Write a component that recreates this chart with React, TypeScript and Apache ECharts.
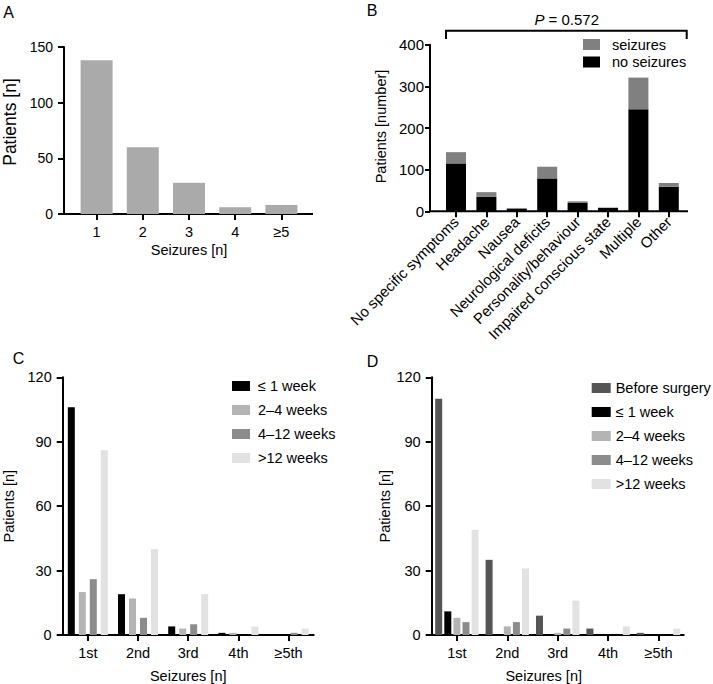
import React, { useEffect, useRef } from "react";
import * as echarts from "echarts";

// ---------- Data ----------
const catsA = ["1", "2", "3", "4", "≥5"];
const valsA = [138, 60, 28, 6, 8];

const catsB = [
  "No specific symptoms",
  "Headache",
  "Nausea",
  "Neurological deficits",
  "Personality/behaviour",
  "Impaired conscious state",
  "Multiple",
  "Other",
];
const noSeizuresB = [115, 35, 6, 79, 20, 8, 245, 59];
const seizuresB = [27, 11, 2, 28, 4, 1, 76, 9];

const catsCD = ["1st", "2nd", "3rd", "4th", "≥5th"];
const w1C = [106, 19, 4, 1, 0];
const w2to4C = [20, 17, 3, 1, 0];
const w4to12C = [26, 8, 5, 0, 1];
const w12C = [86, 40, 19, 4, 3];

const beforeD = [110, 35, 9, 3, 1];
const w1D = [11, 0, 0, 0, 0];
const w2to4D = [8, 4, 1, 0, 0];
const w4to12D = [6, 6, 3, 0, 0];
const w12D = [49, 31, 16, 4, 3];

const ticksA = { min: 0, max: 150, interval: 50 };
const ticksB = { min: 0, max: 400, interval: 100 };
const ticksCD = { min: 0, max: 120, interval: 30 };

// ---------- Styles ----------
const FONT = "Liberation Sans, Arial, Helvetica, sans-serif";
const C_BLACK = "#000000";
const C_LIGHT = "#b4b4b4";
const C_MID = "#8c8c8c";
const C_VLIGHT = "#e2e2e2";
const C_BEFORE = "#555555";
const C_A = "#aaaaaa";
const C_SEIZ = "#808080";

const axisLine = { show: true, lineStyle: { color: "#000", width: 2 } };
const tick = (len: number) => ({ show: true, length: len, lineStyle: { color: "#000", width: 2 } });

function yAxis(grid: number, t: any, name: string, gap: number, fs: number, opts: any = {}) {
  return {
    gridIndex: grid,
    type: "value",
    min: t.min,
    max: t.max,
    interval: t.interval,
    axisLine,
    axisTick: tick(opts.tickLen ?? 6),
    splitLine: { show: false },
    axisLabel: { fontSize: fs, color: "#000", fontFamily: FONT, margin: opts.labelMargin ?? 11 },
    name,
    nameLocation: "middle",
    nameGap: gap,
    nameTextStyle: { fontSize: opts.nameSize ?? 14.5, color: "#000", fontFamily: FONT, padding: opts.namePad ?? 0 },
    offset: opts.offset ?? 0,
  };
}

function xAxis(grid: number, data: string[], opts: any = {}) {
  return {
    gridIndex: grid,
    type: "category",
    data,
    axisLine: opts.hideLine ? { show: false } : axisLine,
    axisTick: { ...tick(6), alignWithLabel: true },
    axisLabel: {
      fontSize: opts.fs ?? 14.5,
      color: "#000",
      fontFamily: FONT,
      margin: opts.margin ?? 10,
      interval: 0,
      rotate: opts.rotate ?? 0,
    },
    name: opts.name ?? "",
    nameLocation: "middle",
    nameGap: opts.nameGap ?? 30,
    nameTextStyle: { fontSize: 14.5, color: "#000", fontFamily: FONT, padding: opts.namePad ?? 0 },
  };
}

function bar(name: string, x: number, data: number[], color: string, extra: any = {}) {
  return {
    type: "bar",
    name,
    xAxisIndex: x,
    yAxisIndex: x,
    data,
    itemStyle: { color },
    ...extra,
  };
}

export default function App() {
  const ref = useRef<HTMLDivElement>(null);

  useEffect(() => {
    document.body.style.margin = "0";
    if (!ref.current) return;
    const chart = echarts.init(ref.current, undefined, { renderer: "svg" });

    const legendText = { fontSize: 14.5, color: "#000", fontFamily: FONT };

    const option: any = {
      animation: false,
      textStyle: { fontFamily: FONT, color: "#000" },
      grid: [
        { left: 69.5, top: 47, width: 235, height: 167 },
        { left: 440.8, top: 44.7, width: 243.2, height: 166.6 },
        { left: 61.7, top: 377.3, width: 252, height: 257.7 },
        { left: 431.7, top: 377.3, width: 252, height: 257.7 },
      ],
      xAxis: [
        xAxis(0, catsA, { hideLine: true, name: "Seizures [n]", nameGap: 28 }),
        xAxis(1, catsB, { hideLine: true, rotate: 45, fs: 15, margin: 8 }),
        xAxis(2, catsCD, { name: "Seizures [n]", nameGap: 33 }),
        xAxis(3, catsCD, { name: "Seizures [n]", nameGap: 33, namePad: [0, 28, 0, 0] }),
      ],
      yAxis: [
        yAxis(0, ticksA, "Patients [n]", 45, 14, { offset: 9.5, nameSize: 17.5, namePad: [0, 0, 0, 17] }),
        yAxis(1, ticksB, "Patients [number]", 41.5, 15, { offset: 10.8, labelMargin: 6, tickLen: 5, namePad: [0, 0, 0, 3] }),
        yAxis(2, ticksCD, "Patients [n]", 46.7, 14.5),
        yAxis(3, ticksCD, "Patients [n]", 38.4, 14.5),
      ],
      legend: [
        {
          data: ["seizures", "no seizures"],
          orient: "vertical",
          left: 583,
          top: 37,
          padding: 0,
          itemWidth: 17,
          itemHeight: 11,
          itemGap: 2.5,
          icon: "rect",
          selectedMode: false,
          textStyle: { ...legendText, padding: [0, 0, 0, 7] },
        },
        {
          data: ["≤ 1 week", "2–4 weeks", "4–12 weeks", ">12 weeks"],
          orient: "vertical",
          left: 232,
          top: 378.5,
          padding: 0,
          itemWidth: 18,
          itemHeight: 10,
          itemGap: 9,
          icon: "rect",
          selectedMode: false,
          textStyle: { ...legendText, padding: [0, 0, 0, 3] },
        },
        {
          data: ["Before surgery", "≤ 1 week", "2–4 weeks", "4–12 weeks", ">12 weeks"],
          orient: "vertical",
          left: 591.7,
          top: 380.5,
          padding: 0,
          itemWidth: 19,
          itemHeight: 10,
          itemGap: 9,
          icon: "rect",
          selectedMode: false,
          textStyle: { ...legendText },
        },
      ],
      series: [
        bar("Seizures", 0, valsA, C_A, { barWidth: 32 }),
        bar("no seizures", 1, noSeizuresB, C_BLACK, { stack: "b", barWidth: 20 }),
        bar("seizures", 1, seizuresB, C_SEIZ, { stack: "b", barWidth: 20 }),
        bar("≤ 1 week", 2, w1C, C_BLACK, { barWidth: 7, barGap: "57%" }),
        bar("2–4 weeks", 2, w2to4C, C_LIGHT, { barWidth: 7, barGap: "57%" }),
        bar("4–12 weeks", 2, w4to12C, C_MID, { barWidth: 7, barGap: "57%" }),
        bar(">12 weeks", 2, w12C, C_VLIGHT, { barWidth: 7, barGap: "57%" }),
        bar("Before surgery", 3, beforeD, C_BEFORE, { barWidth: 7, barGap: "30%" }),
        bar("≤ 1 week", 3, w1D, C_BLACK, { barWidth: 7, barGap: "30%" }),
        bar("2–4 weeks", 3, w2to4D, C_LIGHT, { barWidth: 7, barGap: "30%" }),
        bar("4–12 weeks", 3, w4to12D, C_MID, { barWidth: 7, barGap: "30%" }),
        bar(">12 weeks", 3, w12D, C_VLIGHT, { barWidth: 7, barGap: "30%" }),
      ],
      graphic: [
        // extended x axis lines for panels A and B
        { type: "line", shape: { x1: 59, y1: 214, x2: 313, y2: 214 }, style: { stroke: "#000", lineWidth: 2 } },
        { type: "line", shape: { x1: 429, y1: 211.3, x2: 688, y2: 211.3 }, style: { stroke: "#000", lineWidth: 2 } },
        // significance bracket
        {
          type: "polyline",
          shape: { points: [[446, 39], [446, 30.7], [686.7, 30.7], [686.7, 39]] },
          style: { stroke: "#000", lineWidth: 2, fill: null },
        },
        {
          type: "text",
          x: 566.7,
          y: 19,
          style: {
            text: "{i|P} = 0.572",
            rich: { i: { fontStyle: "italic", fontSize: 15, fontFamily: FONT, fill: "#000" } },
            fontSize: 15,
            fontFamily: FONT,
            fill: "#000",
            align: "center",
            verticalAlign: "middle",
            textAlign: "center",
            textVerticalAlign: "middle",
          },
        },
        ...[
          ["A", 3.3, 12],
          ["B", 366.7, 10],
          ["C", 12.7, 358.3],
          ["D", 366.7, 361],
        ].map(([t, x, y]) => ({
          type: "text",
          x,
          y,
          style: {
            text: t,
            fontSize: 16,
            fontFamily: FONT,
            fill: "#000",
            align: "left",
            verticalAlign: "middle",
            textAlign: "left",
            textVerticalAlign: "middle",
          },
        })),
      ],
    };

    chart.setOption(option);
    return () => chart.dispose();
  }, []);

  return <div ref={ref} style={{ width: 713, height: 684 }} />;
}
